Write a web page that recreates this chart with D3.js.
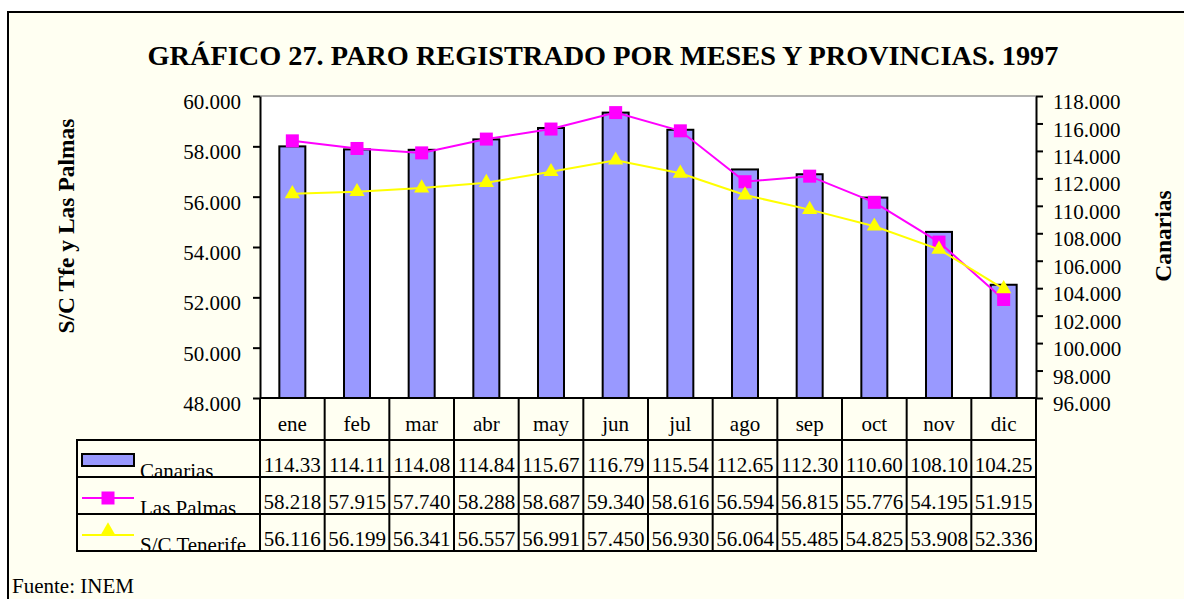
<!DOCTYPE html>
<html>
<head>
<meta charset="utf-8">
<script src="https://cdn.jsdelivr.net/npm/d3@7"></script>
<style>
  body { margin: 0; background: #fff; }
  svg { display: block; font-family: 'Liberation Serif', 'Times New Roman', serif; }
</style>
</head>
<body>
<svg id="chart" width="1184" height="599"></svg>
<script>
// data (thousands)
const months = ['ene', 'feb', 'mar', 'abr', 'may', 'jun', 'jul', 'ago', 'sep', 'oct', 'nov', 'dic'];
const canarias = [114.33, 114.11, 114.08, 114.84, 115.67, 116.79, 115.54, 112.65, 112.30, 110.60, 108.10, 104.25];
const lasPalmas = [58.218, 57.915, 57.740, 58.288, 58.687, 59.340, 58.616, 56.594, 56.815, 55.776, 54.195, 51.915];
const tenerife = [56.116, 56.199, 56.341, 56.557, 56.991, 57.450, 56.930, 56.064, 55.485, 54.825, 53.908, 52.336];
const leftTicks = [48, 50, 52, 54, 56, 58, 60];
const rightTicks = [96, 98, 100, 102, 104, 106, 108, 110, 112, 114, 116, 118];

const svg = d3.select('#chart');
const plot = { left: 260, right: 1036, top: 96, bottom: 398 };
const table = { left: 77, headerBottom: 440, rowH: 37 };
const fontSize = 21;

// frame
svg.append('rect')
  .attr('x', 8).attr('y', 12).attr('width', 1300).attr('height', 700)
  .attr('fill', '#fffff2').attr('stroke', '#000').attr('stroke-width', 2);

// title
svg.append('text')
  .attr('x', 603).attr('y', 65)
  .attr('text-anchor', 'middle')
  .attr('font-size', 28.3).attr('font-weight', 'bold')
  .text('GRÁFICO 27. PARO REGISTRADO POR MESES Y PROVINCIAS. 1997');

const x = d3.scaleBand().domain(months).range([plot.left, plot.right]);
const yL = d3.scaleLinear().domain([48, 60]).range([plot.bottom, plot.top]);
const yR = d3.scaleLinear().domain([96, 118]).range([plot.bottom, plot.top]);

// plot background
svg.append('rect')
  .attr('x', plot.left).attr('y', plot.top)
  .attr('width', plot.right - plot.left).attr('height', plot.bottom - plot.top)
  .attr('fill', '#fff');
svg.append('line')
  .attr('x1', plot.left).attr('x2', plot.right)
  .attr('y1', plot.top).attr('y2', plot.top)
  .attr('stroke', '#999').attr('stroke-width', 1.5);

// bars (Canarias, right axis)
const barW = 26;
svg.append('g').selectAll('rect')
  .data(canarias)
  .join('rect')
  .attr('x', (d, i) => x(months[i]) + (x.bandwidth() - barW) / 2)
  .attr('y', d => yR(d))
  .attr('width', barW)
  .attr('height', d => plot.bottom - yR(d))
  .attr('fill', '#9999ff')
  .attr('stroke', '#000').attr('stroke-width', 2);

// axes
const fmt = d3.format('.3f');
const gL = svg.append('g')
  .attr('transform', `translate(${plot.left},0)`)
  .call(d3.axisLeft(yL).tickValues(leftTicks).tickSize(7).tickSizeOuter(0).tickFormat(fmt));
const gR = svg.append('g')
  .attr('transform', `translate(${plot.right},0)`)
  .call(d3.axisRight(yR).tickValues(rightTicks).tickSize(7).tickSizeOuter(0).tickFormat(fmt));
[gL, gR].forEach(g => {
  g.attr('font-family', 'Liberation Serif').attr('font-size', fontSize);
  g.selectAll('path, line').attr('stroke', '#000').attr('stroke-width', 2);
  g.selectAll('text').attr('fill', '#000').attr('dy', '0.6em');
});
gL.selectAll('text').attr('x', -19);
gR.selectAll('text').attr('x', 17);

// lines
const lineL = d3.line()
  .x((d, i) => x(months[i]) + x.bandwidth() / 2)
  .y(d => yL(d));

svg.append('path')
  .datum(lasPalmas)
  .attr('fill', 'none').attr('stroke', '#ff00ff').attr('stroke-width', 2)
  .attr('d', lineL);
svg.append('g').selectAll('rect')
  .data(lasPalmas)
  .join('rect')
  .attr('x', (d, i) => x(months[i]) + x.bandwidth() / 2 - 6.5)
  .attr('y', d => yL(d) - 6.5)
  .attr('width', 13).attr('height', 13)
  .attr('fill', '#ff00ff');

const tri = d3.symbol().type(d3.symbolTriangle).size(100);
svg.append('path')
  .datum(tenerife)
  .attr('fill', 'none').attr('stroke', '#ffff00').attr('stroke-width', 2)
  .attr('d', lineL);
svg.append('g').selectAll('path')
  .data(tenerife)
  .join('path')
  .attr('transform', (d, i) => `translate(${x(months[i]) + x.bandwidth() / 2},${yL(d)})`)
  .attr('d', tri)
  .attr('fill', '#ffff00');

// data table
const rows = [
  { name: 'Canarias', values: canarias, format: d3.format('.2f') },
  { name: 'Las Palmas', values: lasPalmas, format: d3.format('.3f') },
  { name: 'S/C Tenerife', values: tenerife, format: d3.format('.3f') }
];
const tbl = svg.append('g').attr('font-size', fontSize);

// month labels
tbl.selectAll('text.month')
  .data(months)
  .join('text')
  .attr('class', 'month')
  .attr('x', d => x(d) + x.bandwidth() / 2)
  .attr('y', 431)
  .attr('text-anchor', 'middle')
  .text(d => d);

rows.forEach((row, r) => {
  const top = table.headerBottom + r * table.rowH;
  const bottom = top + table.rowH;
  tbl.selectAll(`text.v${r}`)
    .data(row.values)
    .join('text')
    .attr('x', (d, i) => x(months[i]) + x.bandwidth() / 2)
    .attr('y', bottom - 5)
    .attr('text-anchor', 'middle')
    .text(d => row.format(d));
  tbl.append('text')
    .attr('x', 140).attr('y', bottom + 1)
    .text(row.name);
});

// legend keys
tbl.append('rect')
  .attr('x', 82).attr('y', 454).attr('width', 52).attr('height', 12)
  .attr('fill', '#9999ff').attr('stroke', '#000').attr('stroke-width', 2);
tbl.append('line')
  .attr('x1', 82).attr('x2', 134).attr('y1', 498).attr('y2', 498)
  .attr('stroke', '#ff00ff').attr('stroke-width', 2);
tbl.append('rect')
  .attr('x', 101.5).attr('y', 491.5).attr('width', 13).attr('height', 13)
  .attr('fill', '#ff00ff');
tbl.append('line')
  .attr('x1', 82).attr('x2', 134).attr('y1', 535).attr('y2', 535)
  .attr('stroke', '#ffff00').attr('stroke-width', 2);
tbl.append('path')
  .attr('transform', 'translate(108,531)')
  .attr('d', tri)
  .attr('fill', '#ffff00');

// grid lines of the table
const tableBottom = table.headerBottom + rows.length * table.rowH;
const grid = svg.append('g').attr('stroke', '#000').attr('stroke-width', 2);
const edges = months.map(m => x(m)).concat([plot.right]);
grid.selectAll('line.v')
  .data(edges)
  .join('line')
  .attr('x1', d => d).attr('x2', d => d)
  .attr('y1', plot.bottom).attr('y2', tableBottom);
grid.append('line')
  .attr('x1', table.left).attr('x2', table.left)
  .attr('y1', table.headerBottom).attr('y2', tableBottom);
grid.append('line')
  .attr('x1', plot.left).attr('x2', plot.right)
  .attr('y1', plot.bottom).attr('y2', plot.bottom);
d3.range(rows.length + 1).forEach(r => {
  const yy = table.headerBottom + r * table.rowH;
  grid.append('line')
    .attr('x1', table.left - 1).attr('x2', plot.right + 1)
    .attr('y1', yy).attr('y2', yy);
});

// axis titles
svg.append('text')
  .attr('transform', 'translate(74,226) rotate(-90)')
  .attr('text-anchor', 'middle')
  .attr('font-size', 23.5).attr('font-weight', 'bold')
  .text('S/C Tfe y Las Palmas');
svg.append('text')
  .attr('transform', 'translate(1171,236) rotate(-90)')
  .attr('text-anchor', 'middle')
  .attr('font-size', 23.5).attr('font-weight', 'bold')
  .text('Canarias');

// source
svg.append('text')
  .attr('x', 12).attr('y', 593)
  .attr('font-size', fontSize)
  .text('Fuente: INEM');
</script>
</body>
</html>
